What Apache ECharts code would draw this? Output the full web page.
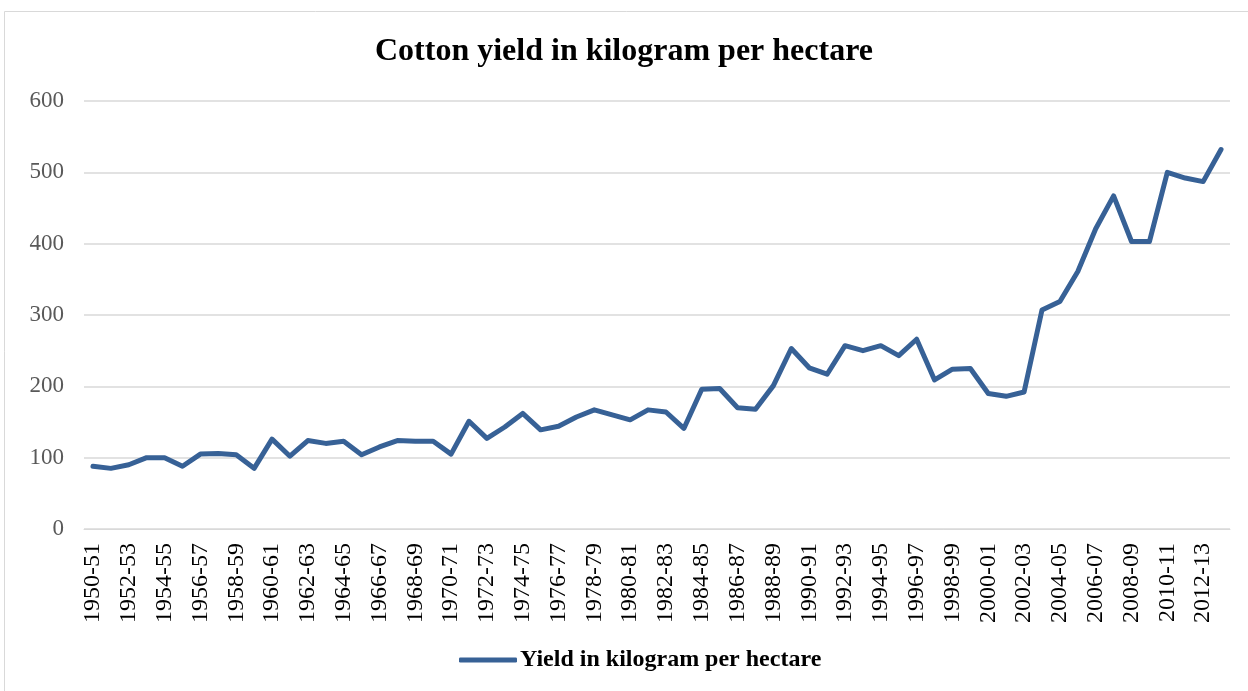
<!DOCTYPE html>
<html>
<head>
<meta charset="utf-8">
<script src="https://cdn.jsdelivr.net/npm/echarts@6/dist/echarts.min.js"></script>
<style>
    html, body { margin: 0; padding: 0; background: #fff; }
    #main { width: 1248px; height: 691px; }
</style>
</head>
<body>
<div id="main"></div>
<script>
    // years 1950-51 .. 2013-14
    var years = [];
    for (var y = 1950; y <= 2013; y++) {
        years.push(y + '-' + String((y + 1) % 100).padStart(2, '0'));
    }

    // yield in kg per hectare
    var yieldKg = [
        88, 85, 90, 100, 100, 88, 105, 106, 104, 85,
        126, 102, 124, 120, 123, 104, 115, 124, 123, 123,
        105, 151, 127, 143, 162, 139, 144, 157, 167, 160,
        153, 167, 164, 141, 196, 197, 170, 168, 201, 253,
        226, 217, 257, 250, 257, 243, 266, 209, 224, 225,
        190, 186, 192, 307, 319, 361, 421, 467, 403, 403,
        500, 492, 487, 532
    ];

    var yTicks = [0, 100, 200, 300, 400, 500, 600];

    var serif = '"Liberation Serif", "Times New Roman", serif';
    var chart = echarts.init(document.getElementById('main'));

    var option = {
        backgroundColor: '#fff',
        animation: false,
        graphic: [{
            type: 'rect',
            shape: { x: 4.5, y: 11.5, width: 1260, height: 700 },
            style: { fill: 'none', stroke: '#d9d9d9', lineWidth: 1 },
            silent: true
        }],
        title: {
            text: 'Cotton yield in kilogram per hectare',
            left: 'center',
            top: 31,
            textStyle: { fontFamily: serif, fontSize: 32, fontWeight: 'bold', color: '#000' }
        },
        legend: {
            bottom: 14,
            left: 454,
            itemWidth: 58,
            itemHeight: 5,
            itemGap: 4,
            icon: 'roundRect',
            textStyle: { fontFamily: serif, fontSize: 24, fontWeight: 'bold', color: '#000', padding: [0, 0, 0, -2] }
        },
        grid: { left: 84, right: 18, top: 101, bottom: 162 },
        xAxis: {
            type: 'category',
            data: years,
            boundaryGap: true,
            axisLine: { lineStyle: { color: '#d9d9d9', width: 1 } },
            axisTick: { show: false },
            axisLabel: {
                interval: 1,
                rotate: 90,
                margin: 14,
                fontFamily: serif,
                fontSize: 24,
                color: '#000'
            }
        },
        yAxis: {
            type: 'value',
            min: yTicks[0],
            max: yTicks[yTicks.length - 1],
            interval: 100,
            axisLine: { show: false },
            axisTick: { show: false },
            splitLine: { lineStyle: { color: '#d9d9d9', width: 1.5 } },
            axisLabel: {
                margin: 20,
                fontFamily: serif,
                fontSize: 23,
                color: '#595959'
            }
        },
        series: [{
            name: 'Yield in kilogram per hectare',
            type: 'line',
            data: yieldKg,
            symbol: 'none',
            lineStyle: { color: '#376196', width: 5, cap: 'round', join: 'round' },
            itemStyle: { color: '#376196' }
        }]
    };

    chart.setOption(option);
</script>
</body>
</html>
